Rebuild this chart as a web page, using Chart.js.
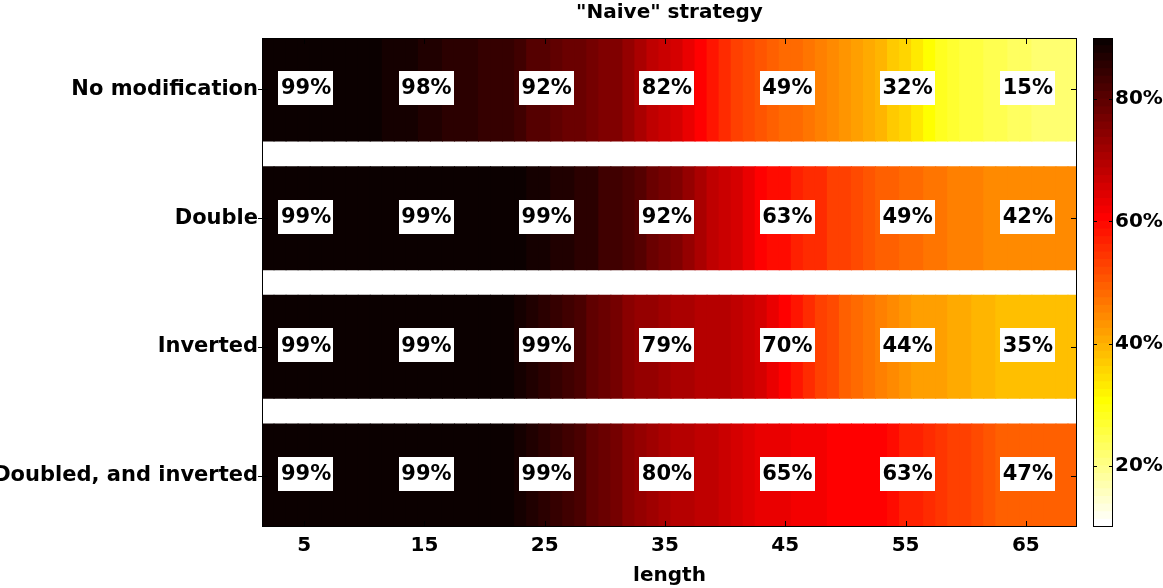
<!DOCTYPE html>
<html>
<head>
<meta charset="utf-8">
<script src="https://cdn.jsdelivr.net/npm/chart.js@4"></script>
<style>
  body { margin: 0; background: #fff; }
  #wrap { position: relative; width: 1163px; height: 588px; }
  #main { position: absolute; left: 0; top: 0; }
  #bar { position: absolute; left: 1080px; top: 0; }
</style>
</head>
<body>
<div id="wrap">
  <canvas id="main" width="1163" height="588"></canvas>
  <canvas id="bar" width="83" height="588"></canvas>
</div>
<script>
//---data---
const lengths = [2,3,4,5,6,7,8,9,10,11,12,13,14,15,16,17,18,19,20,21,22,23,24,25,26,27,28,29,30,31,32,33,34,35,
  36,37,38,39,40,41,42,43,44,45,46,47,48,49,50,51,52,53,54,55,56,57,58,59,60,61,62,63,64,65,66,67,68,69];
const rowNames = ['No modification', 'Double', 'Inverted', 'Doubled, and inverted'];

// colour value of each length column (%), one list per row
const noModification = [90,90,90,90,90,90,90,90,90,90,
  88,88,88,87,87,85.5,85.5,85.5,84.5,84.5,
  84.5,82.5,81,81,79.5,78,78,77,75.5,75.5,
  73,70,67.5,67,65,63,61,57.5,55,53.7,
  52.2,50.8,49.4,48.5,47.5,46.5,46,44.6,43.3,41.9,
  40.4,39,37,35.6,32.6,30.6,28,27,25.6,25,
  24.4,23.8,23.1,22.5,22.3,21.9,21.9,21.5];
const double = [90,90,90,90,90,90,90,90,90,90,
  90,90,90,90,90,90,90,90,90,90,
  90,90,87.6,87.6,86.6,86.6,85.3,85.3,83.6,83.6,
  81.9,80.3,78.4,77,75.6,73.6,70.5,68.1,66.6,65,
  63.4,60.6,59.7,58.8,57.4,55.9,55,53.7,52.7,51.8,
  50.8,49.4,49,47.5,47.5,46.5,46.5,45.6,45.6,45.6,
  44.6,44.6,44.6,44.6,44.6,44.6,44.6,44.6];
const inverted = [90,90,90,90,90,90,90,90,90,90,
  90,90,90,90,90,90,90,90,90,90,
  89.5,87.8,86.6,85.3,84,82.9,81.3,79.4,77.9,76.3,
  74.9,73.6,72.8,71.9,70.9,70.9,69.9,69.9,69,68.1,
  67,65,62.9,60.6,57.8,55,53.1,51.3,49.9,48.4,
  46.5,45.2,44.2,43.3,42.3,41.9,41.4,40.4,40.4,39.4,
  39,38.5,38.5,38.5,38.5,38.5,38.5,38.5];
const doubledInverted = [90,90,90,90,90,90,90,90,90,90,
  90,90,90,90,90,90,90,90,90,90,
  89.5,88,86.8,85.7,84.4,82.7,81.3,79.7,78.4,76.6,
  74.6,72.8,71.9,70.5,69.9,69.5,68.5,67.6,66.6,65,
  64,63.4,62.9,62.5,62,61.8,61.5,61,60.6,60.6,
  60.6,60.1,58.8,57.4,56.4,55.4,54.5,53.7,52.7,51.8,
  50.8,49.9,49.2,49.2,49.2,49.2,49.2,49.2];

// printed percentages
const labelLengths = [5, 15, 25, 35, 45, 55, 65];
const noModificationLabels = [99, 98, 92, 82, 49, 32, 15];
const doubleLabels = [99, 99, 99, 92, 63, 49, 42];
const invertedLabels = [99, 99, 99, 79, 70, 44, 35];
const doubledInvertedLabels = [99, 99, 99, 80, 65, 63, 47];

const xTicks = [5, 15, 25, 35, 45, 55, 65];
const colorTicks = [20, 40, 60, 80];
const colorMin = 10, colorMax = 90, colorLevels = 64;

const rowValues = [noModification, double, inverted, doubledInverted];
const rowLabels = [noModificationLabels, doubleLabels, invertedLabels, doubledInvertedLabels];

const FONT = '"DejaVu Sans", sans-serif';
const Y_MIN = 0.6, Y_MAX = 4.4; // rows sit at 1..4

//---colour map (flipped "hot")---
function hotColor(level){ // level 0 = lowest value (white), 63 = highest (black-red)
  const j = colorLevels - 1 - level;
  const clamp = v => Math.max(0, Math.min(1, v));
  const r = clamp((j + 1) / 24), g = clamp((j + 1 - 24) / 24), b = clamp((j + 1 - 48) / 16);
  return 'rgb(' + Math.round(r * 255) + ',' + Math.round(g * 255) + ',' + Math.round(b * 255) + ')';
}
function colorFor(v){
  let k = Math.floor((v - colorMin) / (colorMax - colorMin) * colorLevels);
  k = Math.max(0, Math.min(colorLevels - 1, k));
  return hotColor(k);
}

//---plugins---
const boxLabels = {
  id: 'boxLabels',
  afterDatasetsDraw(chart){
    const {ctx, scales: {x, y}} = chart;
    ctx.save();
    ctx.font = 'bold 21px ' + FONT;
    ctx.textAlign = 'center';
    ctx.textBaseline = 'middle';
    rowLabels.forEach((labels, i) => {
      labels.forEach((p, k) => {
        const t = p + '%';
        const px = x.getPixelForValue(labelLengths[k]) + 2;
        const py = y.getPixelForValue(i + 1) - 1.5;
        const w = ctx.measureText(t).width + 5;
        ctx.fillStyle = '#fff';
        ctx.fillRect(Math.round(px - w / 2), Math.round(py - 17), Math.round(w), 34);
        ctx.fillStyle = '#000';
        ctx.fillText(t, px, py + 1);
      });
    });
    ctx.restore();
  }
};

const frame = {
  id: 'frame',
  afterDraw(chart, args, opts){
    const {ctx, chartArea: a} = chart;
    ctx.save();
    ctx.strokeStyle = '#000';
    ctx.lineWidth = 1;
    ctx.strokeRect(a.left + 0.5, a.top + 0.5, a.right - a.left - 1, a.bottom - a.top - 1);
    ctx.beginPath();
    const len = opts.tick || 6;
    if (opts.xTicks) {
      opts.xTicks.forEach(v => {
        const px = Math.round(chart.scales.x.getPixelForValue(v)) + 0.5;
        ctx.moveTo(px, a.top); ctx.lineTo(px, a.top + len);
        ctx.moveTo(px, a.bottom); ctx.lineTo(px, a.bottom - len);
      });
    }
    if (opts.yTicks) {
      opts.yTicks.forEach(v => {
        const py = Math.round(chart.scales.y.getPixelForValue(v)) + 0.5;
        ctx.moveTo(a.left - (opts.out || 0), py); ctx.lineTo(a.left + len, py);
        ctx.moveTo(a.right, py); ctx.lineTo(a.right - len, py);
      });
    }
    ctx.stroke();
    ctx.restore();
  }
};

//---main heat map---
const datasets = rowValues.map((vals, i) => ({
  label: rowNames[i],
  data: lengths.map((L, k) => ({x: [L - 0.5, L + 0.5], y: i + 1, v: vals[k]})),
  backgroundColor: ctx => colorFor(ctx.raw.v),
  borderWidth: 0,
  inflateAmount: 0.5,
  grouped: false,
  barPercentage: 0.8,
  categoryPercentage: 1
}));

new Chart(document.getElementById('main'), {
  type: 'bar',
  data: {datasets: datasets},
  options: {
    indexAxis: 'y',
    responsive: false,
    animation: false,
    layout: {padding: {left: 0, right: 86, top: 0, bottom: 0}},
    plugins: {
      legend: {display: false},
      tooltip: {enabled: false},
      title: {
        display: true, text: '"Naive" strategy', fullSize: false, color: '#000',
        font: {family: FONT, size: 20, weight: 'bold'}, padding: {top: 1, bottom: 13}
      },
      frame: {xTicks: xTicks, yTicks: [1, 2, 3, 4], tick: 6, out: 4}
    },
    scales: {
      x: {
        type: 'linear', min: 1.5, max: 69.25,
        afterBuildTicks: axis => { axis.ticks = xTicks.map(v => ({value: v})); },
        afterFit: s => { s.height = 61; },
        grid: {display: false, drawTicks: false}, border: {display: false},
        ticks: {color: '#000', padding: 7, font: {family: FONT, size: 20, weight: 'bold'}},
        title: {display: true, text: 'length', color: '#000', padding: {top: 0, bottom: 0},
          font: {family: FONT, size: 20, weight: 'bold'}}
      },
      y: {
        type: 'linear', min: Y_MIN, max: Y_MAX, reverse: true, offset: false, bounds: 'data',
        afterDataLimits: axis => { axis.min = Y_MIN; axis.max = Y_MAX; },
        afterBuildTicks: axis => {
          axis.min = Y_MIN; axis.max = Y_MAX;
          axis.ticks = rowNames.map((n, i) => ({value: i + 1}));
        },
        afterFit: s => { s.width = 262; },
        grid: {display: false, drawTicks: false}, border: {display: false},
        ticks: {color: '#000', padding: 4, font: {family: FONT, size: 21, weight: 'bold'},
          callback: v => rowNames[v - 1]}
      }
    }
  },
  plugins: [boxLabels, frame]
});

//---colour bar---
const barSets = [];
for (let k = 0; k < colorLevels; k++) {
  const lo = colorMin + k * (colorMax - colorMin) / colorLevels;
  const hi = colorMin + (k + 1) * (colorMax - colorMin) / colorLevels;
  barSets.push({data: [[lo, hi]], backgroundColor: hotColor(k), borderWidth: 0, inflateAmount: 0.5,
    grouped: false, barPercentage: 1, categoryPercentage: 1});
}

new Chart(document.getElementById('bar'), {
  type: 'bar',
  data: {labels: [''], datasets: barSets},
  options: {
    responsive: false,
    animation: false,
    layout: {padding: {left: 13, right: 0, top: 38, bottom: 61}},
    plugins: {legend: {display: false}, tooltip: {enabled: false}, frame: {yTicks: colorTicks, tick: 4}},
    scales: {
      x: {display: false},
      y: {
        position: 'right', min: colorMin, max: colorMax,
        afterBuildTicks: axis => { axis.ticks = colorTicks.map(v => ({value: v})); },
        afterFit: s => { s.width = 50; },
        grid: {display: false, drawTicks: false}, border: {display: false},
        ticks: {color: '#000', padding: 2, font: {family: FONT, size: 20, weight: 'bold'},
          callback: v => v + '%'}
      }
    }
  },
  plugins: [frame]
});
</script>
</body>
</html>
